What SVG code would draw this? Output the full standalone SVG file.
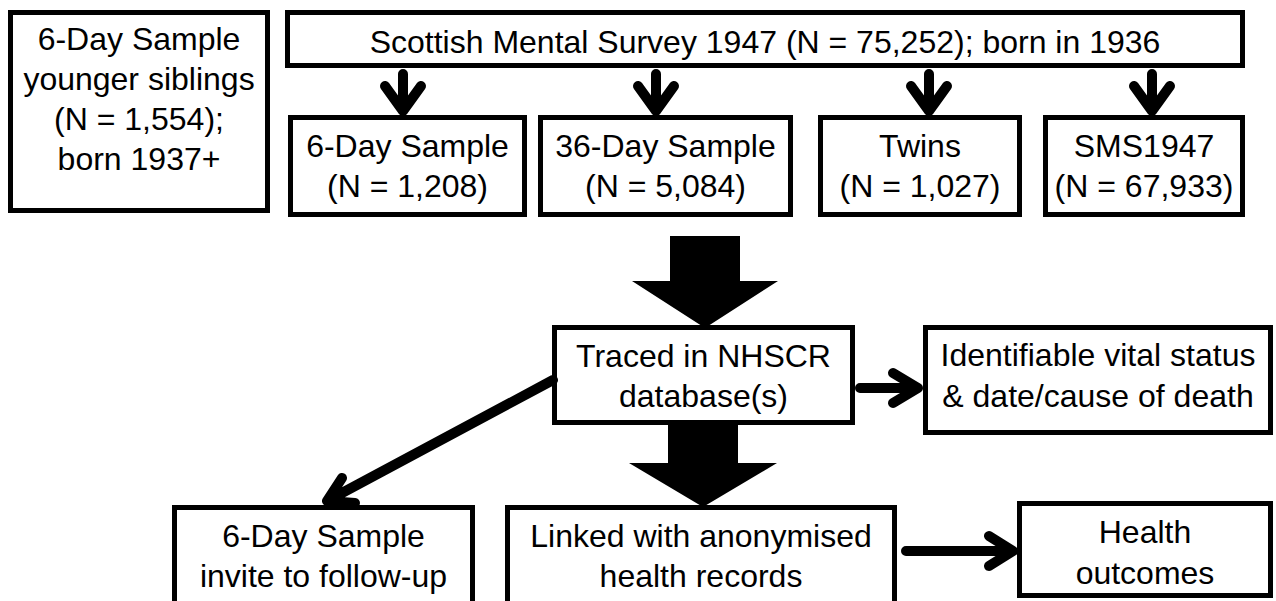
<svg xmlns="http://www.w3.org/2000/svg" width="1276" height="601" viewBox="0 0 1276 601">
<style>
.box{fill:#fff;stroke:#000;stroke-width:5}
.t{font-family:"Liberation Sans",Arial,Helvetica,sans-serif;font-size:32px;fill:#000;text-anchor:middle}
.ln{fill:none;stroke:#000;stroke-width:10;stroke-linecap:round;stroke-linejoin:round}
.big{fill:#000;stroke:none}
</style>
<rect width="1276" height="601" fill="#fff"/>
<g id="siblings">
<rect class="box" x="10.5" y="12.5" width="257" height="198"/>
<text class="t" x="139" y="50">6-Day Sample</text>
<text class="t" x="139" y="90">younger siblings</text>
<text class="t" x="139" y="130">(N = 1,554);</text>
<text class="t" x="139" y="170">born 1937+</text>
</g>
<g id="sms">
<rect class="box" x="287.5" y="12.5" width="955" height="53"/>
<text class="t" x="765" y="53">Scottish Mental Survey 1947 (N = 75,252); born in 1936</text>
</g>
<g id="sixday">
<rect class="box" x="290.5" y="117.5" width="234" height="97"/>
<text class="t" x="407.5" y="157">6-Day Sample</text>
<text class="t" x="407.5" y="197">(N = 1,208)</text>
</g>
<g id="thirtysixday">
<rect class="box" x="540.5" y="117.5" width="250" height="97"/>
<text class="t" x="665.5" y="157">36-Day Sample</text>
<text class="t" x="665.5" y="197">(N = 5,084)</text>
</g>
<g id="twins">
<rect class="box" x="820.5" y="117.5" width="199" height="97"/>
<text class="t" x="920" y="157">Twins</text>
<text class="t" x="920" y="197">(N = 1,027)</text>
</g>
<g id="sms1947">
<rect class="box" x="1045.5" y="117.5" width="197" height="97"/>
<text class="t" x="1144" y="157">SMS1947</text>
<text class="t" x="1144" y="197">(N = 67,933)</text>
</g>
<g id="traced">
<rect class="box" x="554.5" y="327.5" width="298" height="95"/>
<text class="t" x="703.5" y="367">Traced in NHSCR</text>
<text class="t" x="703.5" y="407">database(s)</text>
</g>
<g id="vital">
<rect class="box" x="925.5" y="327.5" width="345" height="105"/>
<text class="t" x="1098" y="366">Identifiable vital status</text>
<text class="t" x="1098" y="407">&amp; date/cause of death</text>
</g>
<g id="invite">
<rect class="box" x="174.5" y="507.5" width="298" height="97"/>
<text class="t" x="323.5" y="547">6-Day Sample</text>
<text class="t" x="323.5" y="587">invite to follow-up</text>
</g>
<g id="linked">
<rect class="box" x="507.5" y="507.5" width="387" height="97"/>
<text class="t" x="701" y="547">Linked with anonymised</text>
<text class="t" x="701" y="587">health records</text>
</g>
<g id="outcomes">
<rect class="box" x="1019.5" y="503.5" width="251" height="92"/>
<text class="t" x="1145" y="543">Health</text>
<text class="t" x="1145" y="584">outcomes</text>
</g>
<g id="connectors">
<path class="ln" d="M403,74 V111 M385,86 L403,111 L421,86"/>
<path class="ln" d="M656,74 V111 M638,86 L656,111 L674,86"/>
<path class="ln" d="M929,74 V111 M911,86 L929,111 L947,86"/>
<path class="ln" d="M1152,74 V111 M1134,86 L1152,111 L1170,86"/>
<polygon class="big" points="670,236 740,236 740,281 778,281 705,328 632,281 670,281"/>
<polygon class="big" points="668,425 738,425 738,463 777,463 703,507 629,463 668,463"/>
<path class="ln" d="M860,388 H918 M893,373 L918,388 L893,403"/>
<path class="ln" d="M906,551 H1013 M989,536 L1013,551 L989,566"/>
<path class="ln" d="M553,380 L327,501 M342,478 L327,501 L355,503"/>
</g>
</svg>
